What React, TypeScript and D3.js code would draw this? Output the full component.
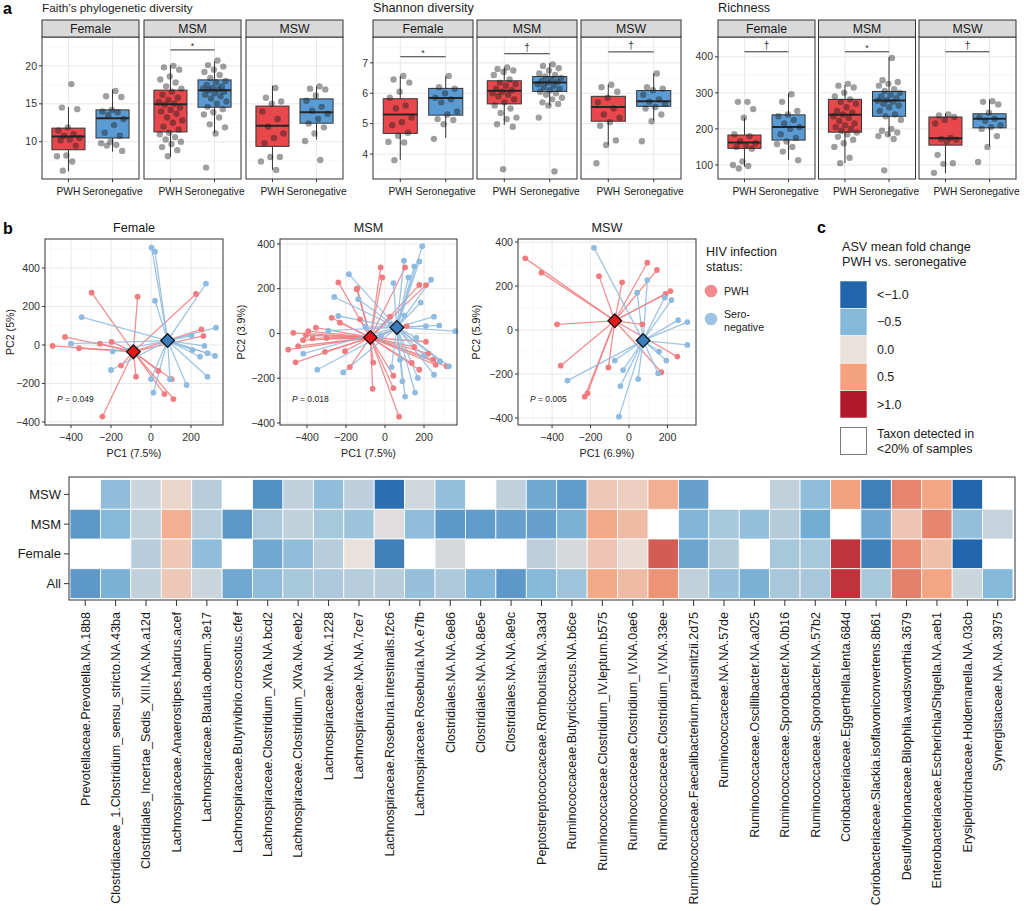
import * as d3 from 'd3'
import { useEffect, useRef } from 'react'

const W = 1024
const H = 911
const FONT = "'Liberation Sans', Arial, Helvetica, sans-serif"

const RED = '#e8474c'
const BLUE = '#5b9bd3'
const PCA_RED = '#f07c80'
const PCA_BLUE = '#8ebbdf'
const INK = '#333333'

const facets = ['Female', 'MSM', 'MSW']
const groups = ['PWH', 'Seronegative']

// ---- panel a: box stats [lower whisker, q1, median, q3, upper whisker]
const faithBoxes = [
  [[6.1, 8.95, 10.7, 11.8, 14.6], [8.7, 10.5, 13.1, 14.2, 16.9]],
  [[8.1, 11.3, 14.95, 16.8, 20.1], [11.15, 14.55, 16.8, 18.15, 20.6]],
  [[6.3, 9.4, 12.1, 14.7, 17.4], [10.3, 12.45, 13.9, 15.65, 17.3]],
]
const shannonBoxes = [
  [[3.8, 4.68, 5.3, 5.82, 6.57], [4.53, 5.28, 5.84, 6.16, 6.57]],
  [[4.96, 5.65, 6.08, 6.41, 6.85], [5.59, 6.06, 6.35, 6.55, 6.99]],
  [[4.31, 5.08, 5.55, 5.9, 6.28], [5.11, 5.57, 5.74, 6.09, 6.66]],
]
const richnessBoxes = [
  [[95, 146, 162, 183, 231], [114, 169, 205, 239, 299]],
  [[105, 191, 239, 282, 322], [179, 235, 279, 304, 399]],
  [[77, 155, 174, 233, 243], [153, 203, 228, 242, 282]],
]

// ---- panel a: individual samples
const faithFemalePwh = [17.6, 14.5, 14.3, 11.9, 11.5, 11.0, 10.8, 10.5, 10.3, 10.2, 9.5, 8.2, 8.1, 7.4, 6.2]
const faithFemaleSero = [16.7, 16.0, 15.9, 14.2, 14.0, 13.9, 13.5, 13.0, 12.2, 11.2, 10.8, 10.0, 9.8, 9.6, 9.5, 8.8]
const faithMsmPwh = [20.0, 19.8, 19.5, 18.6, 18.2, 17.8, 17.3, 17.0, 16.6, 16.2, 15.8, 15.5, 15.2, 15.0, 14.9, 14.5, 14.2, 14.0, 13.7, 13.2, 12.8, 12.5, 12.0, 11.6, 11.2, 11.0, 10.6, 10.3, 10.0, 9.7, 9.3, 8.9, 8.1]
const faithMsmSero = [20.7, 20.1, 19.9, 19.5, 19.2, 18.8, 18.4, 18.0, 17.8, 17.5, 17.3, 17.1, 17.0, 16.9, 16.8, 16.6, 16.4, 16.2, 16.0, 15.7, 15.3, 15.0, 14.6, 14.3, 13.9, 13.6, 13.2, 12.3, 11.9, 11.1, 6.6]
const faithMswPwh = [17.1, 15.8, 15.3, 15.0, 14.0, 13.0, 12.0, 11.1, 10.5, 9.8, 8.0, 8.0, 7.4, 6.3]
const faithMswSero = [17.3, 17.0, 16.9, 16.1, 15.4, 14.6, 14.1, 13.7, 13.0, 12.4, 11.9, 11.1, 10.1, 7.6]

const shannonFemalePwh = [6.57, 6.45, 6.35, 6.05, 5.85, 5.6, 5.5, 5.2, 5.05, 4.95, 4.7, 4.6, 4.4, 4.38, 3.8]
const shannonFemaleSero = [6.57, 6.2, 6.15, 6.0, 5.85, 5.8, 5.7, 5.4, 5.3, 5.15, 5.12, 4.98, 4.5]
const shannonMsmPwh = [6.85, 6.8, 6.75, 6.7, 6.6, 6.45, 6.35, 6.3, 6.25, 6.15, 6.1, 6.05, 6.0, 5.95, 5.9, 5.8, 5.7, 5.6, 5.5, 5.35, 5.2, 5.15, 4.98, 4.9, 3.5]
const shannonMsmSero = [6.95, 6.9, 6.82, 6.75, 6.65, 6.6, 6.55, 6.5, 6.45, 6.4, 6.38, 6.35, 6.3, 6.25, 6.2, 6.15, 6.1, 6.05, 6.0, 5.95, 5.85, 5.8, 5.7, 5.65, 5.6, 5.2, 3.43]
const shannonMswPwh = [6.28, 6.2, 6.05, 5.85, 5.7, 5.5, 5.3, 5.2, 5.05, 4.93, 4.45, 4.3, 3.7]
const shannonMswSero = [6.65, 6.2, 6.15, 6.1, 5.95, 5.8, 5.72, 5.65, 5.55, 5.5, 5.3, 5.08, 4.42]

const richFemalePwh = [275, 275, 255, 231, 185, 180, 165, 160, 155, 150, 145, 110, 100, 97, 90]
const richFemaleSero = [296, 275, 250, 240, 235, 225, 215, 205, 200, 185, 175, 165, 158, 150, 137, 113]
const richMsmPwh = [325, 320, 315, 300, 290, 282, 275, 270, 260, 250, 245, 240, 235, 230, 222, 215, 210, 205, 200, 195, 190, 185, 178, 170, 160, 150, 120, 105]
const richMsmSero = [397, 335, 330, 325, 320, 310, 305, 300, 295, 290, 285, 280, 278, 275, 270, 265, 260, 250, 240, 235, 225, 200, 195, 190, 185, 180, 172, 85]
const richMswPwh = [240, 237, 233, 225, 215, 175, 172, 170, 165, 128, 105, 103, 78]
const richMswSero = [277, 275, 268, 245, 232, 228, 222, 210, 205, 200, 180, 150, 108]

const faithTicks = [10, 15, 20]
const shannonTicks = [4, 5, 6, 7]
const richTicks = [100, 200, 300, 400]

const faithSig = [null, { y: 22.1, label: '*' }, null]
const shannonSig = [{ y: 7.2, label: '*' }, { y: 7.3, label: '†' }, { y: 7.36, label: '†' }]
const richSig = [{ y: 414, label: '†' }, { y: 414, label: '*' }, { y: 414, label: '†' }]

// ---- panel b: PCoA scores [PC1, PC2]
const femalePwh = [[-297, 272], [-67, 251], [225, 265], [252, 81], [262, 47], [-430, 42], [-492, -5], [-360, -17], [-255, 7], [-197, 16], [-150, -107], [-75, -165], [37, -135], [103, -178], [67, -255], [112, -281], [-243, -372]]
const femaleSero = [[3, 506], [20, 485], [20, 230], [275, 319], [-347, 145], [325, 90], [203, 48], [267, -5], [207, -26], [282, -43], [245, -61], [320, -57], [-400, 7], [-192, -33], [-200, -130], [0, -177], [95, -178], [282, -165], [178, -208], [12, -248]]
const msmPwh = [[-22, 295], [-14, 250], [103, 295], [176, 217], [210, 216], [-142, 201], [-128, 63], [26, 75], [111, 33], [210, -37], [222, -90], [248, -117], [316, -147], [137, -132], [176, -162], [43, -189], [43, -244], [-63, -247], [72, -372], [-239, 228], [-273, 70], [-231, 48], [-354, 26], [-470, 3], [-405, -8], [-393, 10], [-371, -22], [-496, -72], [-445, -57], [-308, -82], [-458, -129], [-205, -79], [-145, 198], [-300, -20], [-180, -150], [-60, -130], [150, -60], [260, -140], [-420, -30]]
const msmSero = [[191, 390], [97, 325], [176, 322], [150, 300], [236, 240], [43, 225], [183, 138], [251, 75], [210, 33], [278, 36], [361, 10], [282, -124], [328, -147], [251, -184], [168, -199], [89, -214], [34, -150], [154, -264], [103, -282], [77, -117], [-185, 265], [-260, 163], [-239, 78], [-291, 13], [-419, -90], [-347, -162], [-214, -174], [-137, 153], [30, 40], [100, 80], [-20, -10], [160, -20], [120, 250], [200, -100], [-100, 30]]
const mswPwh = [[-539, 326], [-455, 261], [-156, 245], [-36, 217], [95, 306], [145, 273], [190, 164], [215, 177], [-374, 26], [69, 26], [-355, -162], [-107, -170], [168, -192], [251, -121], [-216, -288], [-230, -303]]
const mswSero = [[-182, 374], [95, 227], [42, 170], [185, 148], [220, 136], [255, 45], [303, 36], [303, -68], [156, -98], [194, -139], [151, -197], [47, -223], [-31, -182], [-74, -139], [-320, -230], [-45, -255], [-52, -394]]
const centroidsPwh = [[-88, -35], [-75, -18], [-74, 42]]
const centroidsSero = [[83, 23], [61, 27], [73, -48]]
const pcaTitles = ['Female', 'MSM', 'MSW']
const pc1Labels = ['PC1 (7.5%)', 'PC1 (7.5%)', 'PC1 (6.9%)']
const pc2Labels = ['PC2 (5%)', 'PC2 (3.9%)', 'PC2 (5.9%)']
const pValues = ['0.049', '0.018', '0.005']

// ---- panel c: heatmap of ASV mean fold change (null = detected in <20% of samples)
const taxa = [
  'Prevotellaceae.Prevotella.NA.18b8',
  'Clostridiaceae_1.Clostridium_sensu_stricto.NA.43ba',
  'Clostridiales_Incertae_Sedis_XIII.NA.NA.a12d',
  'Lachnospiraceae.Anaerostipes.hadrus.acef',
  'Lachnospiraceae.Blautia.obeum.3e17',
  'Lachnospiraceae.Butyrivibrio.crossotus.cfef',
  'Lachnospiraceae.Clostridium_XlVa.NA.bcd2',
  'Lachnospiraceae.Clostridium_XlVa.NA.eeb2',
  'Lachnospiraceae.NA.NA.1228',
  'Lachnospiraceae.NA.NA.7ce7',
  'Lachnospiraceae.Roseburia.intestinalis.f2c6',
  'Lachnospiraceae.Roseburia.NA.e7fb',
  'Clostridiales.NA.NA.6e86',
  'Clostridiales.NA.NA.8e5e',
  'Clostridiales.NA.NA.8e9c',
  'Peptostreptococcaceae.Romboutsia.NA.3a3d',
  'Ruminococcaceae.Butyricicoccus.NA.b6ce',
  'Ruminococcaceae.Clostridium_IV.leptum.b575',
  'Ruminococcaceae.Clostridium_IV.NA.0ae6',
  'Ruminococcaceae.Clostridium_IV.NA.33ee',
  'Ruminococcaceae.Faecalibacterium.prausnitzii.2d75',
  'Ruminococcaceae.NA.NA.57de',
  'Ruminococcaceae.Oscillibacter.NA.a025',
  'Ruminococcaceae.Sporobacter.NA.0b16',
  'Ruminococcaceae.Sporobacter.NA.57b2',
  'Coriobacteriaceae.Eggerthella.lenta.684d',
  'Coriobacteriaceae.Slackia.isoflavoniconvertens.8b61',
  'Desulfovibrionaceae.Bilophila.wadsworthia.3679',
  'Enterobacteriaceae.Escherichia/Shigella.NA.aeb1',
  'Erysipelotrichaceae.Holdemanella.NA.03cb',
  'Synergistaceae.NA.NA.3975',
]
const heatRows = ['MSW', 'MSM', 'Female', 'All']
const heatMsw = [null, -0.45, -0.15, 0.1, -0.25, null, -0.75, -0.2, -0.45, -0.22, -0.95, -0.12, -0.43, null, -0.2, -0.6, -0.68, 0.2, 0.15, 0.4, -0.65, null, null, -0.2, -0.45, 0.5, -0.85, 0.6, 0.48, -1.0, null]
const heatMsm = [-0.7, -0.5, -0.2, 0.4, -0.25, -0.7, -0.3, -0.2, -0.33, -0.38, -0.05, -0.45, -0.7, -0.68, -0.65, -0.65, -0.55, 0.45, 0.3, null, -0.52, -0.33, -0.43, -0.27, -0.58, null, -0.6, 0.22, 0.6, -0.43, -0.18]
const heatFemale = [null, null, -0.25, 0.2, -0.45, null, -0.6, -0.45, -0.25, 0.0, -0.85, null, -0.1, null, null, -0.22, -0.1, 0.22, 0.05, 0.75, -0.62, -0.27, null, -0.33, -0.33, 0.9, -0.85, 0.58, 0.27, -1.0, null]
const heatAll = [-0.7, -0.55, -0.2, 0.2, -0.15, -0.6, -0.45, -0.33, -0.3, -0.25, -0.25, -0.42, -0.3, -0.52, -0.7, -0.5, -0.37, 0.45, 0.3, 0.55, -0.2, -0.42, -0.55, -0.32, -0.32, 0.9, -0.33, 0.62, 0.48, -0.15, -0.5]
const legendStops = [-1, -0.5, 0, 0.5, 1]
const legendLabels = ['<−1.0', '−0.5', '0.0', '0.5', '>1.0']
const legendColors = ['#2166ac', '#85b9da', '#e9e1dd', '#f4a27f', '#b2182b']

const jit = (i: number) => ((((i + 1) * 0.618034) % 1) - 0.5) * 0.56

function minorOf(ticks: number[], domain: number[]) {
  const step = ticks[1] - ticks[0]
  const lo = Math.min(domain[0], domain[1])
  const hi = Math.max(domain[0], domain[1])
  let v = ticks[0] - step / 2
  while (v - step >= lo) v -= step
  const out: number[] = []
  for (; v <= hi; v += step) if (v >= lo) out.push(v)
  return out
}

function boxFacets(svg: any, cfg: any) {
  const { x0, w, gap, title, titleSize, domain, ticks, boxes, points, sigs } = cfg
  const top = 37
  const bottom = 179
  const y = d3.scaleLinear().domain(domain).range([bottom, top])
  const minor = minorOf(ticks, domain)

  svg.append('text').attr('x', x0).attr('y', 12).attr('font-size', titleSize).attr('fill', '#1a1a1a').text(title)

  facets.forEach((f, fi) => {
    const left = x0 + fi * (w + gap)
    const x = d3.scaleLinear().domain([0.4, 2.6]).range([left, left + w])
    const g = svg.append('g')
    g.append('rect').attr('x', left).attr('y', top).attr('width', w).attr('height', bottom - top).attr('fill', '#fff')
    g.selectAll('.mn').data(minor).join('line')
      .attr('x1', left).attr('x2', left + w).attr('y1', (d: number) => y(d)).attr('y2', (d: number) => y(d))
      .attr('stroke', '#f2f2f2').attr('stroke-width', 0.6)
    g.selectAll('.mj').data(ticks).join('line')
      .attr('x1', left).attr('x2', left + w).attr('y1', (d: number) => y(d)).attr('y2', (d: number) => y(d))
      .attr('stroke', '#e8e8e8').attr('stroke-width', 1)
    g.selectAll('.mv').data([1, 2]).join('line')
      .attr('x1', (d: number) => x(d)).attr('x2', (d: number) => x(d)).attr('y1', top).attr('y2', bottom)
      .attr('stroke', '#e8e8e8').attr('stroke-width', 1)

    const bw = x(1.375) - x(0.625)
    boxes[fi].forEach((b: number[], gi: number) => {
      const cx = x(gi + 1)
      g.append('line').attr('x1', cx).attr('x2', cx).attr('y1', y(b[0])).attr('y2', y(b[4]))
        .attr('stroke', INK).attr('stroke-width', 1)
      g.append('rect').attr('x', cx - bw / 2).attr('width', bw).attr('y', y(b[3])).attr('height', y(b[1]) - y(b[3]))
        .attr('fill', gi ? BLUE : RED).attr('stroke', INK).attr('stroke-width', 1)
      g.append('line').attr('x1', cx - bw / 2).attr('x2', cx + bw / 2).attr('y1', y(b[2])).attr('y2', y(b[2]))
        .attr('stroke', '#262626').attr('stroke-width', 2)
    })
    points[fi].forEach((vals: number[], gi: number) => {
      g.selectAll(`.p${gi}`).data(vals).join('circle')
        .attr('cx', (_: number, i: number) => x(gi + 1 + jit(i)))
        .attr('cy', (d: number) => y(d))
        .attr('r', 3.2).attr('fill', '#1a1a1a').attr('fill-opacity', 0.42)
    })

    g.append('rect').attr('x', left).attr('y', top).attr('width', w).attr('height', bottom - top)
      .attr('fill', 'none').attr('stroke', INK).attr('stroke-width', 1)
    g.append('rect').attr('x', left).attr('y', 20).attr('width', w).attr('height', top - 20)
      .attr('fill', '#d9d9d9').attr('stroke', INK).attr('stroke-width', 1)
    g.append('text').attr('x', left + w / 2).attr('y', 33).attr('text-anchor', 'middle')
      .attr('font-size', 12.3).attr('fill', '#1a1a1a').text(f)

    groups.forEach((lab, gi) => {
      g.append('text').attr('x', x(gi + 1)).attr('y', 195).attr('text-anchor', 'middle')
        .attr('font-size', 10.2).attr('fill', '#1a1a1a').text(lab)
      g.append('line').attr('x1', x(gi + 1)).attr('x2', x(gi + 1)).attr('y1', bottom).attr('y2', bottom + 3).attr('stroke', INK)
    })

    const s = sigs[fi]
    if (s) {
      g.append('line').attr('x1', x(1)).attr('x2', x(2)).attr('y1', y(s.y)).attr('y2', y(s.y))
        .attr('stroke', INK).attr('stroke-width', 1)
      g.append('text').attr('x', (x(1) + x(2)) / 2).attr('y', y(s.y) - (s.label === '*' ? 1 : 3))
        .attr('text-anchor', 'middle').attr('font-size', s.label === '*' ? 9 : 10).attr('fill', INK).text(s.label)
    }
  })

  const ax = svg.append('g')
  ticks.forEach((t: number) => {
    ax.append('line').attr('x1', x0 - 3).attr('x2', x0).attr('y1', y(t)).attr('y2', y(t)).attr('stroke', INK)
    ax.append('text').attr('x', x0 - 5).attr('y', y(t)).attr('dy', '0.35em').attr('text-anchor', 'end')
      .attr('font-size', 10.5).attr('fill', '#333').text(t)
  })
}

function pcaPanel(svg: any, cfg: any) {
  const { left, right, top, bottom, xDomain, yDomain, title, xlab, ylab, ylabX, p, pwh, sero, cPwh, cSero } = cfg
  const x = d3.scaleLinear().domain(xDomain).range([left, right])
  const y = d3.scaleLinear().domain(yDomain).range([bottom, top])
  const xt = [-400, -200, 0, 200]
  const yt = [-400, -200, 0, 200, 400]
  const fmt = d3.format('d')
  const g = svg.append('g')

  g.append('rect').attr('x', left).attr('y', top).attr('width', right - left).attr('height', bottom - top).attr('fill', '#fff')
  minorOf(xt, xDomain).forEach((v) => g.append('line').attr('x1', x(v)).attr('x2', x(v)).attr('y1', top).attr('y2', bottom).attr('stroke', '#f3f3f3').attr('stroke-width', 0.6))
  minorOf(yt, yDomain).forEach((v) => g.append('line').attr('y1', y(v)).attr('y2', y(v)).attr('x1', left).attr('x2', right).attr('stroke', '#f3f3f3').attr('stroke-width', 0.6))
  xt.forEach((v) => g.append('line').attr('x1', x(v)).attr('x2', x(v)).attr('y1', top).attr('y2', bottom).attr('stroke', '#e8e8e8'))
  yt.forEach((v) => g.append('line').attr('y1', y(v)).attr('y2', y(v)).attr('x1', left).attr('x2', right).attr('stroke', '#e8e8e8'))

  const sets = [
    { pts: pwh, c: cPwh, col: PCA_RED },
    { pts: sero, c: cSero, col: PCA_BLUE },
  ]
  sets.forEach((s) => {
    g.selectAll(null).data(s.pts).join('line')
      .attr('x1', (d: number[]) => x(d[0])).attr('y1', (d: number[]) => y(d[1]))
      .attr('x2', x(s.c[0])).attr('y2', y(s.c[1]))
      .attr('stroke', s.col).attr('stroke-width', 1.3).attr('stroke-opacity', 0.85)
  })
  sets.forEach((s) => {
    g.selectAll(null).data(s.pts).join('circle')
      .attr('cx', (d: number[]) => x(d[0])).attr('cy', (d: number[]) => y(d[1]))
      .attr('r', 2.9).attr('fill', s.col)
  })
  const diamond = (c: number[], fill: string) => {
    const cx = x(c[0])
    const cy = y(c[1])
    const r = 6.8
    g.append('path').attr('d', `M${cx},${cy - r}L${cx + r},${cy}L${cx},${cy + r}L${cx - r},${cy}Z`)
      .attr('fill', fill).attr('stroke', '#111').attr('stroke-width', 1.3)
  }
  diamond(cPwh, '#e4191c')
  diamond(cSero, '#3b7ebf')

  g.append('rect').attr('x', left).attr('y', top).attr('width', right - left).attr('height', bottom - top)
    .attr('fill', 'none').attr('stroke', INK).attr('stroke-width', 1)

  xt.forEach((v) => {
    g.append('line').attr('x1', x(v)).attr('x2', x(v)).attr('y1', bottom).attr('y2', bottom + 3).attr('stroke', INK)
    g.append('text').attr('x', x(v)).attr('y', bottom + 16).attr('text-anchor', 'middle').attr('font-size', 10.6).attr('fill', '#333').text(fmt(v))
  })
  yt.forEach((v) => {
    g.append('line').attr('x1', left - 3).attr('x2', left).attr('y1', y(v)).attr('y2', y(v)).attr('stroke', INK)
    g.append('text').attr('x', left - 5).attr('y', y(v)).attr('dy', '0.35em').attr('text-anchor', 'end').attr('font-size', 10.6).attr('fill', '#333').text(fmt(v))
  })
  const mid = (left + right) / 2
  g.append('text').attr('x', mid).attr('y', 232).attr('text-anchor', 'middle').attr('font-size', 12.6).attr('fill', '#1a1a1a').text(title)
  g.append('text').attr('x', mid).attr('y', bottom + 32).attr('text-anchor', 'middle').attr('font-size', 10.6).attr('fill', '#1a1a1a').text(xlab)
  g.append('text').attr('transform', `translate(${ylabX},${(top + bottom) / 2}) rotate(-90)`).attr('text-anchor', 'middle')
    .attr('font-size', 10.6).attr('fill', '#1a1a1a').text(ylab)
  const pt = g.append('text').attr('x', left + 12).attr('y', 402).attr('font-size', 8.5).attr('fill', '#1a1a1a')
  pt.append('tspan').attr('font-style', 'italic').text('P')
  pt.append('tspan').text(` = ${p}`)
}

export default function App() {
  const ref = useRef<SVGSVGElement>(null)

  useEffect(() => {
    document.body.style.margin = '0'
    const svg = d3.select(ref.current)
    svg.selectAll('*').remove()
    svg.append('rect').attr('width', W).attr('height', H).attr('fill', '#fff')

    // panel letters
    svg.append('text').attr('x', 3).attr('y', 14).attr('font-size', 16).attr('font-weight', 'bold').text('a')
    svg.append('text').attr('x', 3).attr('y', 234).attr('font-size', 16).attr('font-weight', 'bold').text('b')
    svg.append('text').attr('x', 817).attr('y', 233).attr('font-size', 16).attr('font-weight', 'bold').text('c')

    // ---- a
    boxFacets(svg, {
      x0: 42, w: 97, gap: 5, title: 'Faith’s phylogenetic diversity', titleSize: 11.8, domain: [5.1, 23.8], ticks: faithTicks,
      boxes: faithBoxes, sigs: faithSig,
      points: [[faithFemalePwh, faithFemaleSero], [faithMsmPwh, faithMsmSero], [faithMswPwh, faithMswSero]],
    })
    boxFacets(svg, {
      x0: 373, w: 100, gap: 4, title: 'Shannon diversity', titleSize: 12.7, domain: [3.18, 7.85], ticks: shannonTicks,
      boxes: shannonBoxes, sigs: shannonSig,
      points: [[shannonFemalePwh, shannonFemaleSero], [shannonMsmPwh, shannonMsmSero], [shannonMswPwh, shannonMswSero]],
    })
    boxFacets(svg, {
      x0: 718, w: 97, gap: 3.5, title: 'Richness', titleSize: 12.7, domain: [61, 455], ticks: richTicks,
      boxes: richnessBoxes, sigs: richSig,
      points: [[richFemalePwh, richFemaleSero], [richMsmPwh, richMsmSero], [richMswPwh, richMswSero]],
    })

    // ---- b
    const pcaFrames = [
      { left: 45, right: 223, xDomain: [-530, 360], yDomain: [-416, 551], ylabX: 14 },
      { left: 280, right: 457, xDomain: [-538, 369], yDomain: [-409, 422], ylabX: 245 },
      { left: 518, right: 696, xDomain: [-577, 348], yDomain: [-432, 414], ylabX: 480 },
    ]
    const pcaPwh = [femalePwh, msmPwh, mswPwh]
    const pcaSero = [femaleSero, msmSero, mswSero]
    pcaFrames.forEach((fr, i) => {
      pcaPanel(svg, {
        ...fr, top: 239, bottom: 425, title: pcaTitles[i], xlab: pc1Labels[i], ylab: pc2Labels[i], p: pValues[i],
        pwh: pcaPwh[i], sero: pcaSero[i], cPwh: centroidsPwh[i], cSero: centroidsSero[i],
      })
    })

    // HIV legend
    const hl = svg.append('g').attr('font-size', 12.5).attr('fill', '#1a1a1a')
    hl.append('text').attr('x', 706).attr('y', 256).text('HIV infection')
    hl.append('text').attr('x', 706).attr('y', 271).text('status:')
    hl.append('circle').attr('cx', 711).attr('cy', 291).attr('r', 6.3).attr('fill', '#f28b8e')
    hl.append('circle').attr('cx', 711).attr('cy', 319).attr('r', 6.3).attr('fill', '#9ec3e2')
    hl.append('text').attr('x', 724).attr('y', 295).attr('font-size', 10.6).text('PWH')
    hl.append('text').attr('x', 724).attr('y', 318).attr('font-size', 10.6).text('Sero-')
    hl.append('text').attr('x', 724).attr('y', 331).attr('font-size', 10.6).text('negative')

    // ---- c heatmap
    const color = d3.scaleLinear<string>().domain(legendStops).range(legendColors).clamp(true)
    const hx = d3.scaleBand().domain(taxa).range([70, 1013])
    const hy = d3.scaleBand().domain(heatRows).range([479.5, 598.5])
    const heatValues = [heatMsw, heatMsm, heatFemale, heatAll]
    const hm = svg.append('g')
    hm.append('rect').attr('x', 69).attr('y', 477).attr('width', 946).attr('height', 123).attr('fill', '#fff')
    heatRows.forEach((row, ri) => {
      hm.selectAll(null).data(heatValues[ri]).join('rect')
        .attr('x', (_: any, i: number) => hx(taxa[i]) as number)
        .attr('y', hy(row) as number)
        .attr('width', hx.bandwidth()).attr('height', hy.bandwidth())
        .attr('fill', (d: number | null) => (d === null ? 'none' : color(d)))
        .attr('stroke', (d: number | null) => (d === null ? 'none' : '#fff'))
        .attr('stroke-width', 0.8)
    })
    hm.append('rect').attr('x', 69).attr('y', 477).attr('width', 946).attr('height', 123)
      .attr('fill', 'none').attr('stroke', INK).attr('stroke-width', 1)
    heatRows.forEach((row) => {
      const cy = (hy(row) as number) + hy.bandwidth() / 2
      hm.append('line').attr('x1', 64).attr('x2', 69).attr('y1', cy).attr('y2', cy).attr('stroke', INK)
      hm.append('text').attr('x', 61).attr('y', cy).attr('dy', '0.35em').attr('text-anchor', 'end')
        .attr('font-size', 13).attr('fill', '#1a1a1a').text(row)
    })
    taxa.forEach((t) => {
      const cx = (hx(t) as number) + hx.bandwidth() / 2
      hm.append('line').attr('x1', cx).attr('x2', cx).attr('y1', 600).attr('y2', 606).attr('stroke', INK)
      hm.append('text').attr('transform', `translate(${cx + 4.3},612) rotate(-90)`).attr('text-anchor', 'end')
        .attr('font-size', 12.5).attr('fill', '#1a1a1a').text(t)
    })

    // colour legend
    const cl = svg.append('g').attr('fill', '#1a1a1a')
    cl.append('text').attr('x', 842).attr('y', 251).attr('font-size', 12.6).text('ASV mean fold change')
    cl.append('text').attr('x', 842).attr('y', 266).attr('font-size', 12.6).text('PWH vs. seronegative')
    const sy = d3.scaleBand().domain(legendLabels).range([281, 418])
    legendLabels.forEach((lab, i) => {
      cl.append('rect').attr('x', 840).attr('y', sy(lab) as number).attr('width', 27).attr('height', sy.bandwidth())
        .attr('fill', color(legendStops[i])).attr('stroke', '#fff').attr('stroke-width', 0.6)
      cl.append('text').attr('x', 877).attr('y', (sy(lab) as number) + sy.bandwidth() / 2).attr('dy', '0.35em')
        .attr('font-size', 12.4).text(lab)
    })
    cl.append('rect').attr('x', 840.5).attr('y', 427.5).attr('width', 26).attr('height', 27)
      .attr('fill', '#fff').attr('stroke', '#7a7a7a').attr('stroke-width', 1)
    cl.append('text').attr('x', 877).attr('y', 438).attr('font-size', 12.4).text('Taxon detected in')
    cl.append('text').attr('x', 877).attr('y', 453).attr('font-size', 12.4).text('<20% of samples')
  }, [])

  return <svg ref={ref} width={W} height={H} style={{ display: 'block', fontFamily: FONT }} />
}
